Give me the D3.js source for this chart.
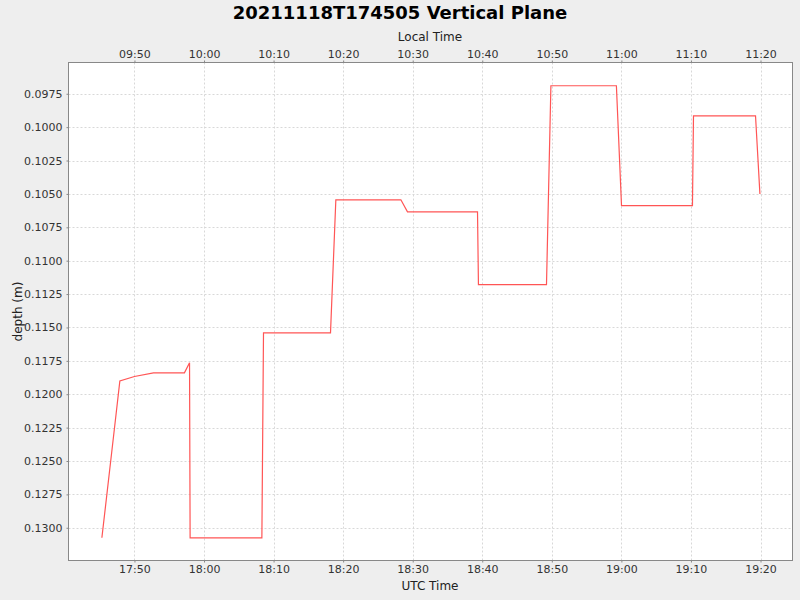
<!DOCTYPE html>
<html><head><meta charset="utf-8">
<script src="https://cdn.jsdelivr.net/npm/d3@7"></script>
<style>
html,body{margin:0;padding:0;background:#eeeeee;}
svg{display:block;font-family:"DejaVu Sans",sans-serif;}
</style></head>
<body>
<svg id="chart" width="800" height="600"></svg>
<script>
// ---- data (UTC time on 2021-11-18, depth in metres) ----
const times = ["17:45:19","17:47:22","17:47:54","17:50:00","17:52:44","17:57:11","17:57:55","17:58:00",
  "18:08:19","18:08:33","18:18:11","18:18:57","18:28:18","18:29:15","18:39:19","18:39:27",
  "18:49:14","18:49:52","18:59:17","19:00:01","19:10:13","19:10:22","19:19:17","19:19:55"];
const depths = [0.13075,0.12144,0.1190,0.11867,0.1184,0.1184,0.11765,0.13075,
  0.13075,0.1154,0.1154,0.10544,0.10544,0.10634,0.10634,0.1118,
  0.1118,0.0969,0.0969,0.10587,0.10587,0.09915,0.09915,0.1050];
const yTicks = [0.0975,0.1000,0.1025,0.1050,0.1075,0.1100,0.1125,0.1150,0.1175,0.1200,0.1225,0.1250,0.1275,0.1300];
const xDomainUtc = ["17:40:31","19:24:36"];
const yDomain = [0.09516, 0.13245];
const localOffsetHours = -8;
const titleText = "20211118T174505 Vertical Plane";

const parse = s => new Date("2021-11-18T" + s + "Z");
const data = times.map((t,i)=>({t:parse(t), d:depths[i]}));

const svg = d3.select("#chart");
const L = 68.5, T = 62.5, R = 792.5, B = 560.5;
const x = d3.scaleUtc().domain(xDomainUtc.map(parse)).range([L, R]);
const y = d3.scaleLinear().domain(yDomain).range([T, B]);

// plot background
svg.append("rect").attr("x",L).attr("y",T).attr("width",R-L).attr("height",B-T).attr("fill","#ffffff");

const xTicks = x.ticks(d3.utcMinute.every(10));

// grid
const g = svg.append("g").attr("stroke","#d8d8d8").attr("stroke-width",1).attr("stroke-dasharray","2,2");
g.selectAll("line.v").data(xTicks).join("line")
  .attr("x1",d=>Math.round(x(d))+0.5).attr("x2",d=>Math.round(x(d))+0.5).attr("y1",T).attr("y2",B);
g.selectAll("line.h").data(yTicks).join("line")
  .attr("y1",d=>Math.round(y(d))+0.5).attr("y2",d=>Math.round(y(d))+0.5).attr("x1",L).attr("x2",R);

// line
const line = d3.line().x(d=>x(d.t)).y(d=>y(d.d));
svg.append("path").datum(data).attr("d",line).attr("fill","none").attr("stroke","#ff5555").attr("stroke-width",1.2);

// border
svg.append("rect").attr("x",L).attr("y",T).attr("width",R-L).attr("height",B-T)
  .attr("fill","none").attr("stroke","#888888").attr("stroke-width",1);

const fmt = d3.utcFormat("%H:%M");
const styleAxis = (sel)=>{
  sel.select(".domain").remove();
  sel.selectAll(".tick line").attr("stroke","#888888");
  sel.selectAll(".tick text").attr("fill","#333333").style("font-size","11px").style("font-family","DejaVu Sans");
};

// bottom axis (UTC)
svg.append("g").attr("transform",`translate(0,${B})`)
  .call(d3.axisBottom(x).tickValues(xTicks).tickFormat(fmt).tickSize(2).tickPadding(3))
  .call(styleAxis);
// top axis (Local)
svg.append("g").attr("transform",`translate(0,${T})`)
  .call(d3.axisTop(x).tickValues(xTicks)
    .tickFormat(d=>fmt(new Date(d.getTime()+localOffsetHours*3600000))).tickSize(2).tickPadding(3))
  .call(styleAxis);
// left axis
svg.append("g").attr("transform",`translate(${L},0)`)
  .call(d3.axisLeft(y).tickValues(yTicks).tickFormat(d3.format(".4f")).tickSize(2).tickPadding(4))
  .call(styleAxis);

// titles
svg.append("text").attr("x",400).attr("y",19).attr("text-anchor","middle")
  .style("font-size","18px").style("font-weight","bold").attr("fill","#000").text(titleText);
svg.append("text").attr("x",430).attr("y",41).attr("text-anchor","middle")
  .style("font-size","12px").attr("fill","#222").text("Local Time");
svg.append("text").attr("x",430).attr("y",590).attr("text-anchor","middle")
  .style("font-size","12px").attr("fill","#222").text("UTC Time");
svg.append("text").attr("transform",`translate(22,${(T+B)/2}) rotate(-90)`).attr("text-anchor","middle")
  .style("font-size","12px").attr("fill","#222").text("depth (m)");
</script>
</body></html>
